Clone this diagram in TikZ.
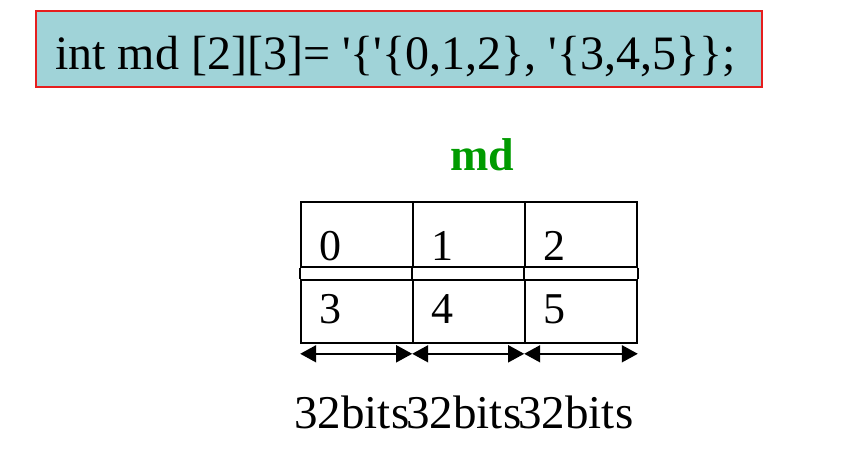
\documentclass[tikz,border=0pt]{standalone}
\usepackage{fontspec}
\setmainfont{Liberation Serif}
\usetikzlibrary{positioning}
\usetikzlibrary{arrows.meta,calc}

\definecolor{declfill}{RGB}{160,211,216}
\definecolor{declline}{RGB}{230,30,30}
\definecolor{namegreen}{RGB}{0,155,0}

\begin{document}
\begin{tikzpicture}[x=1pt,y=-1pt,>={Triangle[length=16pt,width=17pt]},
  decl/.style={draw=declline,line width=1.5pt,fill=declfill,minimum width=726pt,minimum height=76pt,inner sep=0pt},
  cell/.style={draw,line width=1.6pt,minimum width=112pt,inner sep=0pt},
  val/.style={anchor=base west,inner sep=0pt,font=\fontsize{44}{44}\selectfont},
  bits/.style={anchor=base west,inner sep=0pt,font=\fontsize{47}{47}\selectfont},
  dim/.style={line width=1.8pt,<->}]
\useasboundingbox (0,0) rectangle (865,452);
\def\n{3};
\node[decl] (D) at (399,49) {};
\node[anchor=base west,inner sep=0pt,font=\fontsize{48}{48}\selectfont] (code) at (55,70)
  {int md [2][3]= \textquotesingle\{\textquotesingle\{0,1,2\}, \textquotesingle\{3,4,5\}\};};
\node[anchor=base,inner sep=0pt,text=namegreen,font=\fontsize{46}{46}\selectfont\bfseries] (name) at (482,170) {md};

\foreach \i in {0,...,2} {
  \pgfmathtruncatemacro{\j}{\i+3}
  \node[cell,minimum height=65pt] (t\i) at (357+112*\i,234.5) {};
  \node[cell,minimum height=63pt] (b\i) at (357+112*\i,311.5) {};
  \draw[line width=1.6pt] (t\i.south west) -- (b\i.north west);
  \node[val] (v\i) at ($(t\i.west)+(19,25.5)$) {\i};
  \node[val] (v\j) at ($(b\i.west)+(19,11.5)$) {\j};
  \coordinate (a\i) at ($(b\i.south west)+(0,10)$);
  \node[bits] (w\i) at ($(b\i.south west)+(-6,85)$) {32bits};
  }
\draw[line width=1.6pt] (t2.south east) -- (b2.north east);
\coordinate (a3) at ($(b2.south east)+(0,10)$);
\draw[dim] (a0) -- (a1);
\draw[dim] (a1) -- (a2);
\draw[dim] (a2) -- (a3);
\end{tikzpicture}
\end{document}
